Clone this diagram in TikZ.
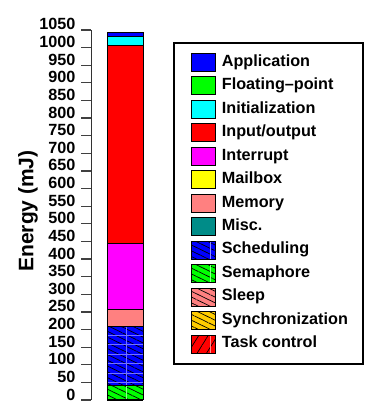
\documentclass[tikz,border=0pt]{standalone}
\usepackage{fontspec}
\setmainfont{Liberation Sans}
\usetikzlibrary{patterns.meta}

\definecolor{cApp}{RGB}{0,0,255}
\definecolor{cFloat}{RGB}{0,255,0}
\definecolor{cInit}{RGB}{0,255,255}
\definecolor{cIO}{RGB}{255,0,0}
\definecolor{cIrq}{RGB}{255,0,255}
\definecolor{cMail}{RGB}{255,255,0}
\definecolor{cMem}{RGB}{255,128,128}
\definecolor{cMisc}{RGB}{0,140,136}
\definecolor{cSched}{RGB}{0,0,255}
\definecolor{cSema}{RGB}{0,255,0}
\definecolor{cSleep}{RGB}{255,128,128}
\definecolor{cSync}{RGB}{255,204,0}
\definecolor{cTask}{RGB}{255,0,0}

\tikzset{
  labelfont/.style={font=\fontsize{16.2}{18}\selectfont\bfseries},
  axisline/.style={draw=black!80, line width=1pt},
  tickline/.style={draw=black!75, line width=1.2pt},
  segline/.style={draw=black, line width=1pt},
  swatchline/.style={draw=black, line width=0.9pt},
  hatchnone/.style={},
  hatchdesc/.style={pattern={Lines[angle=-26,distance=5.2pt,line width=0.7pt]}, pattern color=black},
  hatchasc/.style={pattern={Lines[angle=58,distance=8pt,line width=0.7pt]}, pattern color=black},
  seam/.style={line width=0.6pt},
}

% one stacked piece of the bar: bottom, top, colour, hatch style
\newcommand\barpiece[4]{%
  \path[fill=#3] (107,#1) rectangle (143,#2);
  \path[#4] (107,#1) rectangle (143,#2);
}

\begin{document}
\begin{tikzpicture}[x=1pt,y=1pt]
\useasboundingbox (0,0) rectangle (369,412);

% axis title
\node[rotate=90, anchor=base, font=\fontsize{21}{24}\selectfont\bfseries] (ylab) at (33.3,201) {Energy (mJ)};

\begin{scope}[yshift=12pt, y=0.35238pt]
  % vertical axis with ticks every 50 mJ
  \draw[axisline] (91,0) -- (91,1050);
  \foreach \v in {0,50,...,1050} {
    \draw[tickline] (81,\v) -- (91,\v);
    \node[labelfont, anchor=base east, inner sep=0pt] (tick\v) at (75.5,\v) {\v};
  }

  % stacked energy bar
  \barpiece{0}{41.7}{cSema}{hatchdesc}
  \barpiece{41.7}{209}{cSched}{hatchdesc}
  \barpiece{209}{257}{cMem}{hatchnone}
  \barpiece{257}{443}{cIrq}{hatchnone}
  \barpiece{443}{1007}{cIO}{hatchnone}
  \barpiece{1007}{1031.5}{cInit}{hatchnone}
  \barpiece{1031.5}{1043.6}{cApp}{hatchnone}

  % tile seams of the hatched pieces
  \draw[seam, cSched!55!white] (126.3,41.7) -- (126.3,209);
  \foreach \h in {49.5,76.5,103.5,130.5,157.5,184.5}
    \draw[seam, cSched!55!white] (107,\h) -- (143,\h);
  \draw[seam, cSema!45!white] (126.3,0) -- (126.3,41.7);

  % piece borders
  \foreach \a/\b in {0/41.7,41.7/209,209/257,257/443,443/1007,1007/1031.5,1031.5/1043.6}
    \draw[segline] (107,\a) rectangle (143,\b);
  \draw[black, line width=1.6pt] (107,0.8) -- (143,0.8);
\end{scope}

% legend
\draw[black, line width=2pt] (174,369.3) rectangle (362.7,48);
\foreach \name/\col/\pat/\sm [count=\i from 0] in {
    Application/cApp/hatchnone/0,
    Floating--point/cFloat/hatchnone/0,
    Initialization/cInit/hatchnone/0,
    Input\slash output/cIO/hatchnone/0,
    Interrupt/cIrq/hatchnone/0,
    Mailbox/cMail/hatchnone/0,
    Memory/cMem/hatchnone/0,
    Misc./cMisc/hatchnone/0,
    Scheduling/cSched/hatchdesc/1,
    Semaphore/cSema/hatchdesc/1,
    Sleep/cSleep/hatchdesc/0,
    Synchronization/cSync/hatchdesc/0,
    Task control/cTask/hatchasc/1} {
  \pgfmathsetmacro\yc{412-(62.4+\i*23.47)}
  \path[fill=\col] (191,\yc-9) rectangle (215.3,\yc+9);
  \path[\pat] (191,\yc-9) rectangle (215.3,\yc+9);
  \ifnum\sm=1
    \draw[seam, \col!45!white] (210.5,\yc-9) -- (210.5,\yc+9);
  \fi
  \draw[swatchline] (191,\yc-9) rectangle (215.3,\yc+9);
  \node[labelfont, anchor=base west, inner sep=0pt] (entry\i) at (221.7,\yc-3.8) {\name};
}
\end{tikzpicture}
\end{document}
